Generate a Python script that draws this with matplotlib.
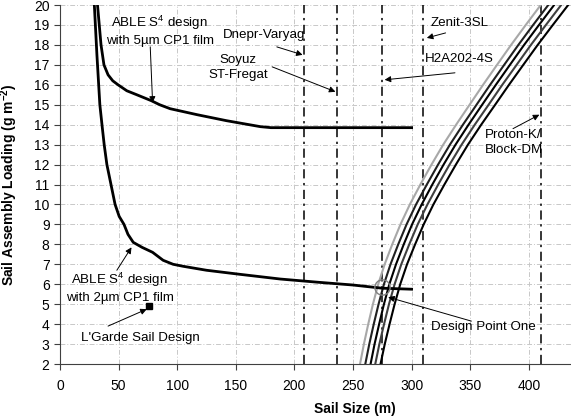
import matplotlib
matplotlib.use("Agg")
import matplotlib.pyplot as plt
import numpy as np

plt.rcParams['font.family'] = ['Liberation Sans', 'DejaVu Sans']
plt.rcParams['mathtext.fontset'] = 'custom'
plt.rcParams['mathtext.rm'] = 'Liberation Sans'
plt.rcParams['mathtext.it'] = 'Liberation Sans:italic'
plt.rcParams['mathtext.bf'] = 'Liberation Sans:bold'

# ABLE S4 design, 5 um CP1 film
x5 = [32, 33.5, 35, 37.5, 41, 45, 49.5, 57, 65.5, 78, 85, 94, 117, 142, 171, 180, 300]
y5 = [20, 19, 18, 17, 16.5, 16.2, 16.0, 15.7, 15.5, 15.2, 15.0, 14.8, 14.5, 14.2, 13.9, 13.85, 13.85]

# ABLE S4 design, 2 um CP1 film
x2 = [29.3, 31.5, 34, 36, 37.7, 40, 43.5, 47, 50.5, 54.6, 58, 62.5, 70, 79, 88, 96.5, 105, 125, 153, 188, 220, 250, 275, 300]
y2 = [20, 17.5, 15, 13.9, 13, 12, 11, 10, 9.4, 9, 8.5, 8.1, 7.85, 7.6, 7.2, 7.0, 6.9, 6.7, 6.5, 6.26, 6.1, 5.96, 5.8, 5.75]

# band of rising curves (sail size at each loading)
band_y = [2, 3, 4, 5, 6, 7, 8, 9, 10, 11, 12, 13, 14, 15, 16, 17, 18, 19, 20]
band_x = [
  [256, 259.3, 263, 267, 271.5, 277, 283.5, 290.5, 298.5, 307.5, 317, 327, 338, 349.5, 361, 372.9, 384.9, 397.4, 410.2],
  [260.5, 263.9, 267.7, 271.8, 276.4, 282.0, 288.6, 295.7, 303.8, 313.0, 322.6, 332.7, 343.8, 355.4, 367.0, 379.0, 391.1, 403.7, 416.6],
  [265, 268.4, 272.3, 276.4, 281.0, 286.7, 293.3, 300.4, 308.6, 317.7, 327.3, 337.5, 348.6, 360.2, 371.9, 383.9, 396.0, 408.7, 421.6],
  [269, 272.5, 276.5, 280.7, 285.5, 291.2, 298.0, 305.2, 313.5, 322.7, 332.4, 342.7, 353.9, 365.7, 377.4, 389.6, 401.8, 414.6, 427.6],
  [273.5, 277.1, 281.2, 285.5, 290.3, 296.1, 303.0, 310.3, 318.6, 328.0, 337.8, 348.1, 359.4, 371.3, 383.1, 395.3, 407.6, 420.5, 433.6],
]
band_colors = ['#a8a8a8', '#202020', '#000000', '#404040', '#000000']

# launch vehicle fairing limits
vehicle_x = [208, 236, 275, 310, 410]

lgarde_x, lgarde_y = 76, 4.9
design_x, design_y = 275, 5.86

fig = plt.figure(figsize=(5.71, 4.19), dpi=100)
ax = fig.add_axes([60 / 571, 1 - 364 / 419, 1 - 60 / 571, 359 / 419])

ax.set_xlim(0, 436)
ax.set_ylim(2, 20)
ax.set_xticks(np.arange(0, 401, 50))
ax.set_yticks(np.arange(2, 21, 1))
ax.grid(True, color='#c8c8c8', linestyle=(0, (5, 2, 1, 2)), linewidth=0.7)
ax.set_axisbelow(True)
for s in ['top', 'right']:
  ax.spines[s].set_visible(False)
for s in ['left', 'bottom']:
  ax.spines[s].set_color('#404040')
ax.tick_params(labelsize=10, length=4, color='#404040')
ax.tick_params(axis='x', pad=7)

for vx in vehicle_x:
  ax.plot([vx, vx], [2, 20], color='black', lw=1.1, linestyle=(0, (6, 3, 1.5, 3)))

for xs, c in zip(band_x, band_colors):
  ax.plot(xs, band_y, color=c, lw=1.5)

ax.plot(x5, y5, color='black', lw=2.0)
ax.plot(x2, y2, color='black', lw=2.0)

ax.plot([lgarde_x], [lgarde_y], 's', color='black', ms=4)
ax.plot([design_x], [design_y], 'o', mfc='none', mec='#808080', ms=11, mew=1)

def arrow(tail, head):
  ax.annotate('', xy=head, xytext=tail,
              arrowprops=dict(arrowstyle='-|>', color='black', lw=0.7,
                              mutation_scale=9, shrinkA=0, shrinkB=0))

fs = 9.6
ax.text(85, 18.73, 'ABLE S$^4$ design\nwith 5\u00b5m CP1 film', ha='center', va='center', fontsize=fs, linespacing=1.3)
arrow((77, 17.9), (79, 15.1))
ax.text(51, 5.85, 'ABLE S$^4$ design\nwith 2\u00b5m CP1 film', ha='center', va='center', fontsize=fs, linespacing=1.3)
arrow((48.5, 6.7), (61, 7.85))
ax.text(68.7, 3.3, "L'Garde Sail Design", ha='center', va='center', fontsize=fs)
arrow((41, 3.9), (74, 4.75))
ax.text(174, 18.5, 'Dnepr-Varyag', ha='center', va='center', fontsize=fs)
arrow((185, 17.9), (207, 17.5))
ax.text(152, 16.88, 'Soyuz\nST-Fregat', ha='center', va='center', fontsize=fs, linespacing=1.3)
arrow((181, 16.9), (235, 15.65))
ax.text(341, 19.1, 'Zenit-3SL', ha='center', va='center', fontsize=fs)
arrow((329, 18.6), (313, 18.35))
ax.text(341, 17.3, 'H2A202-4S', ha='center', va='center', fontsize=fs)
arrow((337, 16.6), (277, 16.25))
ax.text(387, 13.1, 'Proton-K/\nBlock-DM', ha='center', va='center', fontsize=fs, linespacing=1.3)
arrow((386.5, 13.8), (409, 14.5))
ax.text(361, 3.85, 'Design Point One', ha='center', va='center', fontsize=fs)
arrow((351, 4.15), (280, 5.35))

ax.set_xlabel('Sail Size (m)', fontsize=10, fontweight='bold')
ax.set_ylabel(r'Sail Assembly Loading (g m$^{\mathbf{-2}}$)', fontsize=10, fontweight='bold')
ax.xaxis.set_label_coords(252 / 436, -0.105)
ax.yaxis.set_label_coords(-0.078, 0.5)

fig.savefig('out.png', dpi=100)
